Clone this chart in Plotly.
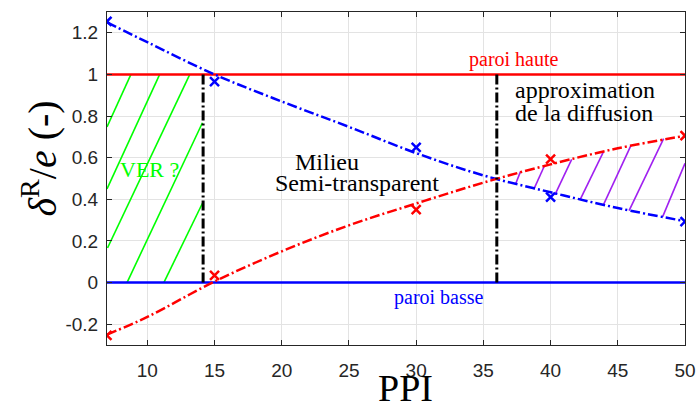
import plotly.graph_objects as go

# ---------------- data ----------------
ppi_meas = [7, 15, 30, 40, 50]
delta_top_meas = [1.255, 0.966, 0.65, 0.41, 0.293]     # blue crosses
delta_bot_meas = [-0.254, 0.035, 0.35, 0.593, 0.706]   # red crosses

ppi_fit = [7, 10, 15, 20, 25, 30, 35, 40, 45, 50]
delta_top_fit = [1.25, 1.155, 1.0, 0.87, 0.748, 0.622, 0.515, 0.434, 0.358, 0.295]
delta_bot_fit = [-0.25, -0.165, 0.005, 0.15, 0.275, 0.38, 0.48, 0.568, 0.645, 0.705]

wall_x = [7, 50]
wall_high = [1, 1]
wall_low = [0, 0]

limit_ver_x = 14.15
limit_diff_x = 36.0
limit_y = [0, 1]

# hatch segments (x0, y0, x1, y1)
green_x0 = [7.0, 7.0, 7.04, 8.49, 11.23]
green_y0 = [0.748, 0.45, 0.166, 0.0, 0.0]
green_x1 = [8.78, 10.92, 13.16, 14.1, 14.1]
green_y1 = [1.0, 1.0, 1.0, 0.768, 0.381]

purple_x0 = [37.39, 38.75, 40.32, 42.19, 43.93, 45.84, 48.34]
purple_y0 = [0.472, 0.448, 0.421, 0.397, 0.373, 0.346, 0.317]
purple_x1 = [37.76, 39.57, 41.57, 43.93, 45.99, 48.41, 50.0]
purple_y1 = [0.533, 0.565, 0.592, 0.628, 0.660, 0.692, 0.573]

x_ticks = [10, 15, 20, 25, 30, 35, 40, 45, 50]
y_ticks = [-0.2, 0, 0.2, 0.4, 0.6, 0.8, 1, 1.2]
y_ticktext = ["-0.2", "0", "0.2", "0.4", "0.6", "0.8", "1", "1.2"]

# ---------------- styles ----------------
BLUE = "rgb(0,0,255)"
RED = "rgb(255,0,0)"
GREEN = "rgb(0,255,0)"
PURPLE = "rgb(160,32,240)"
AX = "#262626"
SERIF = "Liberation Serif"
DASHDOT = "10px,3px,2px,3px"


def segs(x0, y0, x1, y1):
    xs, ys = [], []
    for a, b, c, d in zip(x0, y0, x1, y1):
        xs += [a, c, None]
        ys += [b, d, None]
    return xs, ys


fig = go.Figure()

gx, gy = segs(green_x0, green_y0, green_x1, green_y1)
fig.add_trace(go.Scatter(x=gx, y=gy, mode="lines", line=dict(color=GREEN, width=1.6),
                         hoverinfo="skip", showlegend=False))
px_, py_ = segs(purple_x0, purple_y0, purple_x1, purple_y1)
fig.add_trace(go.Scatter(x=px_, y=py_, mode="lines", line=dict(color=PURPLE, width=1.6),
                         hoverinfo="skip", showlegend=False))

fig.add_trace(go.Scatter(x=wall_x, y=wall_high, mode="lines", line=dict(color=RED, width=2.5),
                         showlegend=False))
fig.add_trace(go.Scatter(x=wall_x, y=wall_low, mode="lines", line=dict(color=BLUE, width=2.5),
                         showlegend=False))

fig.add_trace(go.Scatter(x=ppi_fit, y=delta_top_fit, mode="lines", line_shape="spline",
                         line=dict(color=BLUE, width=2.5, dash=DASHDOT), showlegend=False))
fig.add_trace(go.Scatter(x=ppi_fit, y=delta_bot_fit, mode="lines", line_shape="spline",
                         line=dict(color=RED, width=2.5, dash=DASHDOT), showlegend=False))

fig.add_trace(go.Scatter(x=[limit_ver_x, limit_ver_x], y=limit_y, mode="lines",
                         line=dict(color="black", width=3, dash=DASHDOT), showlegend=False))
fig.add_trace(go.Scatter(x=[limit_diff_x, limit_diff_x], y=limit_y, mode="lines",
                         line=dict(color="black", width=3, dash=DASHDOT), showlegend=False))

fig.add_trace(go.Scatter(x=ppi_meas, y=delta_top_meas, mode="markers",
                         marker=dict(symbol="x-thin", size=9, line=dict(color=BLUE, width=2.5)),
                         showlegend=False))
fig.add_trace(go.Scatter(x=ppi_meas, y=delta_bot_meas, mode="markers",
                         marker=dict(symbol="x-thin", size=9, line=dict(color=RED, width=2.5)),
                         showlegend=False))

ann = [
    dict(x=37.27, y=1.073, text="paroi haute", color=RED, size=20, xanchor="center"),
    dict(x=31.73, y=-0.072, text="paroi basse", color=BLUE, size=20, xanchor="center"),
    dict(x=37.2, y=0.923, text="approximation", color="black", size=24, xanchor="left"),
    dict(x=37.2, y=0.817, text="de la diffusion", color="black", size=24, xanchor="left"),
    dict(x=23.35, y=0.577, text="Milieu", color="black", size=24, xanchor="center"),
    dict(x=25.57, y=0.477, text="Semi-transparent", color="black", size=24, xanchor="center"),
    dict(x=7.85, y=0.543, text="VER ?", color=GREEN, size=22, xanchor="left"),
]
for a in ann:
    fig.add_annotation(x=a["x"], y=a["y"], xref="x", yref="y", text=a["text"], showarrow=False,
                       xanchor=a["xanchor"], yanchor="middle",
                       font=dict(family=SERIF, size=a["size"], color=a["color"]))

fig.add_annotation(x=0.516, y=-0.199, xref="paper", yref="paper", text="PPI", showarrow=False,
                   xanchor="center", yanchor="bottom",
                   font=dict(family=SERIF, size=38, color="black"))
fig.add_annotation(x=-0.116, y=0.56, xref="paper", yref="paper",
                   text="<i>δ</i><sup>R</sup>/<i>e</i> (-)", showarrow=False, textangle=-90,
                   xanchor="center", yanchor="middle",
                   font=dict(family=SERIF, size=40, color="black"))

axis_common = dict(showline=True, linecolor=AX, linewidth=1, mirror="ticks",
                   ticks="inside", ticklen=5, tickcolor=AX, tickwidth=1,
                   showgrid=True, gridcolor="#e3e3e3", gridwidth=1, zeroline=False,
                   automargin=False,
                   tickfont=dict(family="Liberation Sans", size=19, color=AX))

fig.update_xaxes(range=[7, 50], tickvals=x_ticks, ticklabelstandoff=8, **axis_common)
fig.update_yaxes(range=[-0.3, 1.3], tickvals=y_ticks, ticktext=y_ticktext,
                 ticklabelstandoff=4, **axis_common)

fig.update_layout(width=696, height=412, margin=dict(l=107, r=11, t=12, b=67),
                  plot_bgcolor="white", paper_bgcolor="white", showlegend=False)

fig.write_html("out.html", config={"displayModeBar": False},
               post_script="document.body.style.margin='0';document.body.style.overflow='hidden';")
